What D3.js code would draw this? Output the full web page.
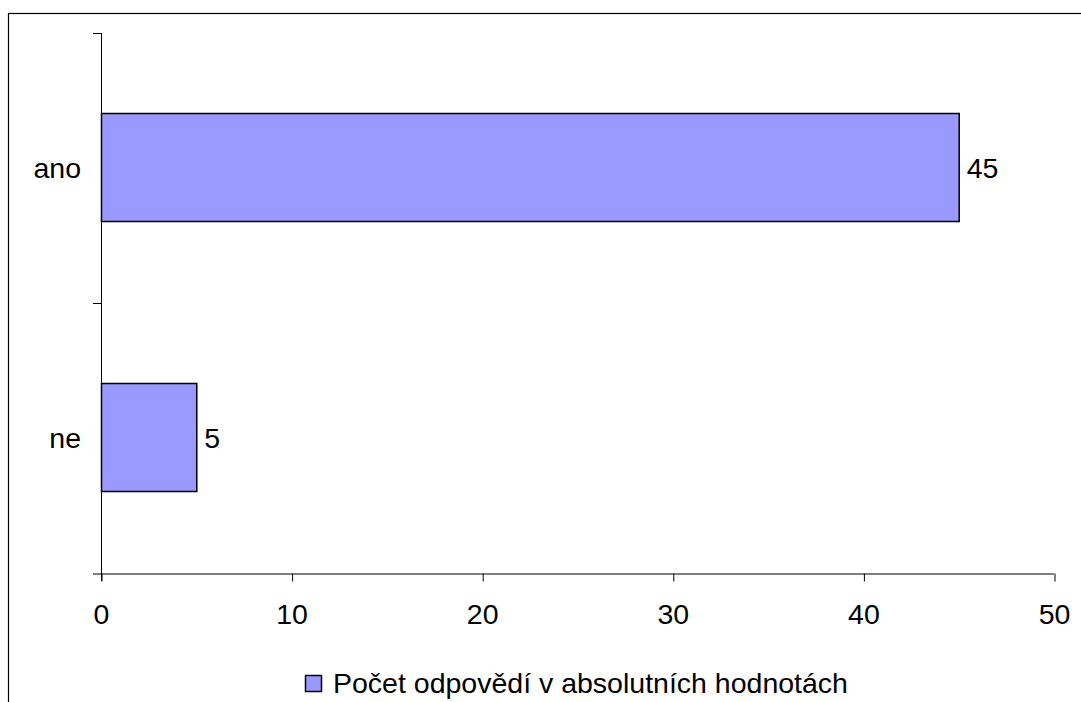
<!DOCTYPE html>
<html>
<head>
<meta charset="utf-8">
<script src="https://cdn.jsdelivr.net/npm/d3@7"></script>
<style>
  html, body { margin: 0; padding: 0; background: #fff; }
  svg { display: block; }
  text { font-family: "Liberation Sans", Arial, sans-serif; fill: #000; }
</style>
</head>
<body>
<svg id="chart" width="1081" height="702"></svg>
<script>
const categories = ["ano", "ne"];
const values = [45, 5];
const xTicks = [0, 10, 20, 30, 40, 50];
const seriesName = "Počet odpovědí v absolutních hodnotách";

const svg = d3.select("#chart");
const fontSize = 28.5;

// outer chart border (extends past the right/bottom edge)
svg.append("rect")
  .attr("x", 8.5).attr("y", 13.5)
  .attr("width", 1200).attr("height", 800)
  .attr("fill", "none").attr("stroke", "#000").attr("stroke-width", 1.2);

const plot = { left: 101, right: 1054, top: 33, bottom: 573 };

const x = d3.scaleLinear().domain([0, 50]).range([plot.left, plot.right]);
const y = d3.scaleBand().domain(categories).range([plot.top, plot.bottom]).paddingInner(0.6).paddingOuter(0.3);
const yOuter = d3.scaleBand().domain(categories).range([plot.top, plot.bottom]);

// bars
svg.selectAll("rect.bar").data(categories).enter().append("rect")
  .attr("class", "bar")
  .attr("x", x(0) + 0.5)
  .attr("y", d => Math.round(y(d)) - 0.5)
  .attr("width", (d, i) => x(values[i]) - x(0))
  .attr("height", Math.round(y.bandwidth()))
  .attr("fill", "#9999FF")
  .attr("stroke", "#000")
  .attr("stroke-width", 1.5);

// x axis
const xAxis = svg.append("g")
  .attr("transform", `translate(0,${plot.bottom + 0.5})`)
  .call(d3.axisBottom(x).tickValues(xTicks).tickSize(8).tickSizeOuter(0).tickPadding(22));
xAxis.select(".domain").attr("stroke", "#000").attr("d", `M${plot.left - 8},0.5H${plot.right}`);
xAxis.selectAll(".tick line").attr("stroke", "#000").attr("transform", "translate(0.5,0)");
xAxis.selectAll(".tick text").style("font-size", fontSize + "px")
  .style("font-family", '"Liberation Sans", Arial, sans-serif').attr("fill", "#000");

// y axis (ticks at category boundaries)
const yg = svg.append("g");
yg.append("line")
  .attr("x1", plot.left + 0.5).attr("x2", plot.left + 0.5)
  .attr("y1", plot.top).attr("y2", plot.bottom + 8)
  .attr("stroke", "#000");
const boundaries = [plot.top].concat(categories.map(c => yOuter(c) + yOuter.bandwidth()));
yg.selectAll("line.tk").data(boundaries.slice(0, -1)).enter().append("line")
  .attr("class", "tk")
  .attr("x1", plot.left - 8).attr("x2", plot.left)
  .attr("y1", d => d + 0.5).attr("y2", d => d + 0.5)
  .attr("stroke", "#000");
yg.selectAll("text").data(categories).enter().append("text")
  .attr("x", plot.left - 20)
  .attr("y", d => yOuter(d) + yOuter.bandwidth() / 2 + 10)
  .attr("text-anchor", "end")
  .style("font-size", fontSize + "px")
  .text(d => d);

// value labels
svg.selectAll("text.val").data(categories).enter().append("text")
  .attr("class", "val")
  .attr("x", (d, i) => x(values[i]) + 8)
  .attr("y", d => yOuter(d) + yOuter.bandwidth() / 2 + 10)
  .style("font-size", fontSize + "px")
  .text((d, i) => values[i]);

// legend
const lg = svg.append("g").attr("transform", "translate(305,675)");
lg.append("rect").attr("x", 0.5).attr("y", 0.5).attr("width", 16).attr("height", 16)
  .attr("fill", "#9999FF").attr("stroke", "#000").attr("stroke-width", 1.5);
lg.append("text").attr("x", 28).attr("y", 18)
  .style("font-size", fontSize + "px").text(seriesName);
</script>
</body>
</html>
